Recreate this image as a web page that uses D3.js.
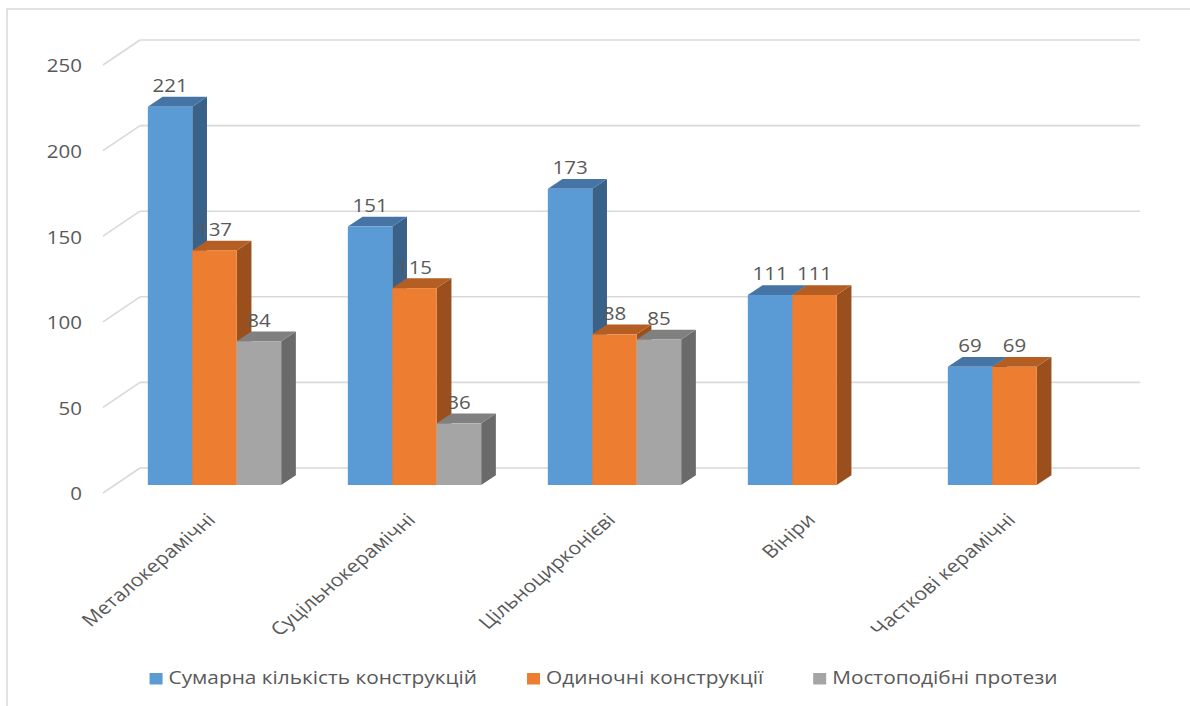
<!DOCTYPE html>
<html>
<head>
<meta charset="utf-8">
<script src="https://cdn.jsdelivr.net/npm/d3@7"></script>
<style>
  html, body { margin: 0; padding: 0; background: #fff; }
  svg { display: block; }
  text { font-family: "Open Sans", "Noto Sans", sans-serif; fill: #595959; }
</style>
</head>
<body>
<svg id="chart" width="1190" height="706"></svg>
<script>
// Dental prosthesis counts by construction type
const categories = ["Металокерамічні", "Суцільнокерамічні", "Цільноцирконієві", "Вініри", "Часткові керамічні"];
const seriesNames = ["Сумарна кількість конструкцій", "Одиночні конструкції", "Мостоподібні протези"];
const totalValues = [221, 151, 173, 111, 69];
const singleValues = [137, 115, 88, 111, 69];
const bridgeValues = [84, 36, 85, null, null];
const yTicks = [0, 50, 100, 150, 200, 250];

const seriesValues = [totalValues, singleValues, bridgeValues];
const faceColors = [
  { front: "#5B9BD5", top: "#4675A5", side: "#3A6289" },
  { front: "#ED7D31", top: "#B55E23", side: "#9A4F1C" },
  { front: "#A5A5A5", top: "#808080", side: "#6A6A6A" }
];

const svg = d3.select("#chart");
const NUM_STRETCH = 1.14;      // wide digits for axis and value labels
const CAT_STRETCH = 1.18;      // horizontal stretch applied after rotation
const LEG_STRETCH = 1.19;

// chart frame
svg.append("rect")
  .attr("x", 7).attr("y", 9).attr("width", 1300).attr("height", 800)
  .attr("fill", "none").attr("stroke", "#D9D9D9").attr("stroke-width", 1.5);

// front plane scales
const x = d3.scaleBand().domain(categories).range([114.5, 1114.5]);
const xInner = d3.scaleBand().domain(d3.range(seriesNames.length))
  .range([x.bandwidth() / 6, x.bandwidth() * 5 / 6]);
const y = d3.scaleLinear().domain([0, 250]).range([485, 57]);

// 3D offsets
const wall = { dx: 25.5, dy: -17 };    // front plane -> back wall
const side = { dx: -37, dy: 25 };      // back wall -> side wall edge
const depth = { dx: 14.7, dy: -9.8 };  // bar depth

// gridlines on back wall and side wall
const grid = svg.append("g").attr("stroke", "#D9D9D9").attr("stroke-width", 1.6).attr("fill", "none");
yTicks.forEach(v => {
  const yb = y(v) + wall.dy;
  const x0 = x.range()[0] + wall.dx, x1 = x.range()[1] + wall.dx;
  grid.append("line").attr("x1", x0).attr("x2", x1).attr("y1", yb).attr("y2", yb);
  grid.append("line").attr("x1", x0).attr("y1", yb).attr("x2", x0 + side.dx).attr("y2", yb + side.dy);
});

// y tick labels
svg.append("g").selectAll("text").data(yTicks).join("text")
  .attr("text-anchor", "end")
  .attr("dominant-baseline", "central")
  .attr("font-size", 18)
  .attr("transform", v => `translate(82,${y(v) + wall.dy + side.dy + 0.5}) scale(${NUM_STRETCH},1)`)
  .text(v => v);

// bars
const bars = [];
categories.forEach((c, ci) => {
  seriesValues.forEach((vals, si) => {
    const v = vals[ci];
    if (v == null) return;
    bars.push({ c, si, v });
  });
});

const barG = svg.append("g");
bars.forEach(b => {
  const x0 = x(b.c) + xInner(b.si);
  const w = xInner.bandwidth();
  const yt = y(b.v), yb = y(0);
  const col = faceColors[b.si];
  const g = barG.append("g");
  g.append("path")
    .attr("d", `M${x0 + w},${yt}L${x0 + w + depth.dx},${yt + depth.dy}L${x0 + w + depth.dx},${yb + depth.dy}L${x0 + w},${yb}Z`)
    .attr("fill", col.side);
  g.append("path")
    .attr("d", `M${x0},${yt}L${x0 + depth.dx},${yt + depth.dy}L${x0 + w + depth.dx},${yt + depth.dy}L${x0 + w},${yt}Z`)
    .attr("fill", col.top);
  g.append("rect")
    .attr("x", x0).attr("y", yt).attr("width", w).attr("height", yb - yt)
    .attr("fill", col.front);
});

// value labels
svg.append("g").selectAll("text").data(bars).join("text")
  .attr("text-anchor", "middle")
  .attr("font-size", 18)
  .attr("transform", b => `translate(${x(b.c) + xInner(b.si) + xInner.bandwidth() / 2},${y(b.v) - 14.5}) scale(${NUM_STRETCH},1)`)
  .text(b => b.v);

// category labels
svg.append("g").selectAll("text").data(categories).join("text")
  .attr("text-anchor", "end")
  .attr("font-size", 18)
  .attr("transform", c => `translate(${x(c) + x.bandwidth() / 2 + 2},521) scale(${CAT_STRETCH},1) rotate(-45)`)
  .text(c => c);

// legend
const legend = svg.append("g");
const items = legend.selectAll("g").data(seriesNames).join("g");
items.append("rect").attr("width", 13).attr("height", 11.5).attr("y", -11)
  .attr("fill", (d, i) => faceColors[i].front);
items.append("text").attr("font-size", 17.5)
  .attr("transform", `translate(19,0) scale(${LEG_STRETCH},1)`)
  .text(d => d);
let offset = 0;
const gap = 50;
items.each(function () {
  const t = d3.select(this).select("text").node();
  const w = 19 + t.getComputedTextLength() * LEG_STRETCH;
  d3.select(this).attr("transform", `translate(${offset},0)`);
  offset += w + gap;
});
const totalW = offset - gap;
legend.attr("transform", `translate(${603.5 - totalW / 2},684)`);
</script>
</body>
</html>
